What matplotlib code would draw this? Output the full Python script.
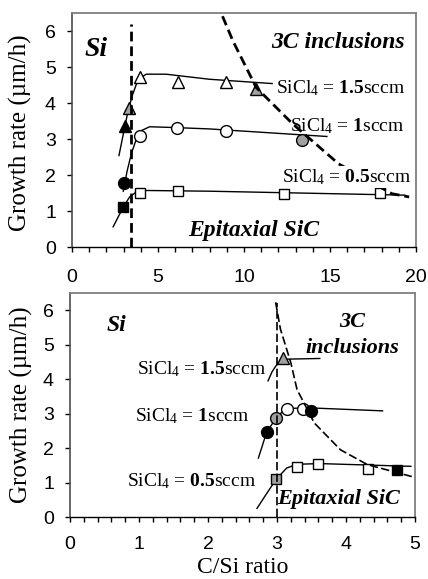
import matplotlib
matplotlib.use("Agg")
import matplotlib.pyplot as plt
from matplotlib.ticker import MultipleLocator

plt.rcParams['font.family'] = ['Liberation Serif', 'DejaVu Serif']
plt.rcParams['mathtext.fontset'] = 'custom'
plt.rcParams['mathtext.rm'] = 'Liberation Serif'
plt.rcParams['mathtext.bf'] = 'Liberation Serif:bold'
plt.rcParams['mathtext.it'] = 'Liberation Serif:italic'
plt.rcParams['lines.scale_dashes'] = False

# ---- upper panel: growth rate vs C/Si ratio, three SiCl4 flows ----
tri_open_x = [3.97, 6.17, 8.94]
tri_open_y = [4.72, 4.57, 4.57]
tri_gray_x = [3.33, 10.67]
tri_gray_y = [3.86, 4.38]
tri_black_x = [3.08]
tri_black_y = [3.35]

cir_open_x = [3.97, 6.10, 8.94]
cir_open_y = [3.09, 3.30, 3.23]
cir_gray_x = [13.37]
cir_gray_y = [2.96]
cir_black_x = [3.02]
cir_black_y = [1.79]

sq_open_x = [3.93, 6.15, 12.31, 17.9]
sq_open_y = [1.50, 1.55, 1.48, 1.50]
sq_black_x = [2.97]
sq_black_y = [1.10]

# fitted curves
fit15_x = [2.73, 3.06, 3.26, 3.50, 3.74, 4.00, 4.31, 5.47, 7.98, 11.64]
fit15_y = [2.54, 3.32, 3.78, 4.20, 4.52, 4.70, 4.80, 4.80, 4.66, 4.54]
fit10_x = [2.98, 3.20, 3.45, 3.74, 4.02, 4.51, 5.86, 7.98, 14.82]
fit10_y = [1.55, 2.10, 2.59, 3.00, 3.23, 3.34, 3.32, 3.28, 3.07]
fit05_x = [2.39, 2.97, 3.35, 3.74, 4.31, 7.98, 19.34]
fit05_y = [0.56, 1.10, 1.39, 1.53, 1.57, 1.55, 1.44]

vline_top = 3.45
bnd_top_x = [8.75, 9.36, 10.71, 12.83, 15.5, 18.6, 19.6]
bnd_top_y = [6.41, 5.72, 4.43, 3.42, 2.31, 1.48, 1.39]

# ---- lower panel ----
b_tri_gray_x = [3.09]
b_tri_gray_y = [4.60]

b_cir_open_x = [3.14, 3.38]
b_cir_open_y = [3.12, 3.12]
b_cir_gray_x = [2.99]
b_cir_gray_y = [2.88]
b_cir_black_x = [2.85, 3.49]
b_cir_black_y = [2.46, 3.07]

b_sq_open_x = [3.29, 3.60, 4.32]
b_sq_open_y = [1.45, 1.55, 1.39]
b_sq_gray_x = [2.99]
b_sq_gray_y = [1.10]
b_sq_black_x = [4.74]
b_sq_black_y = [1.37]

b_fit15_x = [2.87, 2.93, 3.00, 3.06, 3.12, 3.62]
b_fit15_y = [3.95, 4.22, 4.43, 4.54, 4.58, 4.60]
b_fit10_x = [2.73, 2.85, 2.99, 3.09, 3.20, 3.43, 4.53]
b_fit10_y = [1.71, 2.46, 2.88, 3.08, 3.15, 3.17, 3.08]
b_fit05_x = [2.71, 2.85, 2.99, 3.14, 3.29, 3.62, 4.94]
b_fit05_y = [0.25, 0.68, 1.10, 1.42, 1.53, 1.55, 1.47]

vline_bot = 3.0
bnd_bot_x = [2.98, 3.05, 3.20, 3.29, 3.54, 3.92, 4.31, 4.96]
bnd_bot_y = [6.23, 5.45, 4.48, 3.70, 2.73, 1.95, 1.52, 1.17]

GRAY = '#a0a0a0'
mk = dict(linestyle='none', markeredgecolor='black', markeredgewidth=1.0, zorder=3)

fig = plt.figure(figsize=(4.28, 5.79), dpi=100)
ax1 = fig.add_axes([72/428, 1-247/579, 344/428, 234/579])
ax2 = fig.add_axes([70/428, 1-517/579, 345/428, 224/579])


def style_axes(ax, xmax, major, minor, xpad):
    ax.set_xlim(0, xmax)
    ax.set_ylim(0, 6.5)
    ax.xaxis.set_major_locator(MultipleLocator(major))
    ax.xaxis.set_minor_locator(MultipleLocator(minor))
    ax.yaxis.set_major_locator(MultipleLocator(1))
    for s in ['top', 'right']:
        ax.spines[s].set_color('#7f7f7f')
        ax.spines[s].set_linewidth(1.3)
    ax.spines['left'].set_color('#4d4d4d')
    ax.spines['left'].set_linewidth(1.2)
    ax.spines['bottom'].set_color('black')
    ax.spines['bottom'].set_linewidth(1.0)
    ax.tick_params(axis='x', which='both', direction='out', length=3.6, width=1.0, pad=xpad)
    ax.tick_params(axis='y', which='major', direction='out', length=3.6, width=1.0, pad=8)
    for lab in ax.get_xticklabels() + ax.get_yticklabels():
        lab.set_fontfamily('Liberation Sans')
        lab.set_fontsize(14)
    ax.set_ylabel('Growth rate (µm/h)', fontsize=18)


style_axes(ax1, 20, 5, 1, 12)
style_axes(ax2, 5, 1, 0.2, 10)
ax1.yaxis.set_label_coords(-0.116, 0.49)
ax2.yaxis.set_label_coords(-0.108, 0.5)
ax2.set_xlabel('C/Si ratio', fontsize=17)
ax2.xaxis.set_label_coords(0.5, -0.18)

# upper panel
ax1.plot(fit15_x, fit15_y, color='black', lw=1.0, zorder=2)
ax1.plot(fit10_x, fit10_y, color='black', lw=1.0, zorder=2)
ax1.plot(fit05_x, fit05_y, color='black', lw=1.0, zorder=2)
ax1.plot(tri_open_x, tri_open_y, marker='^', ms=8.5, markerfacecolor='white', **mk)
ax1.plot(tri_gray_x, tri_gray_y, marker='^', ms=8.5, markerfacecolor=GRAY, **mk)
ax1.plot(tri_black_x, tri_black_y, marker='^', ms=8.5, markerfacecolor='black', **mk)
ax1.plot(cir_open_x, cir_open_y, marker='o', ms=8.5, markerfacecolor='white', **mk)
ax1.plot(cir_gray_x, cir_gray_y, marker='o', ms=8.5, markerfacecolor=GRAY, **mk)
ax1.plot(cir_black_x, cir_black_y, marker='o', ms=8.5, markerfacecolor='black', **mk)
ax1.plot(sq_open_x, sq_open_y, marker='s', ms=6.5, markerfacecolor='white', **mk)
ax1.plot(sq_black_x, sq_black_y, marker='s', ms=6.5, markerfacecolor='black', **mk)
ax1.plot([vline_top, vline_top], [0, 6.19], color='black', lw=2.0, dashes=(7, 3.6), zorder=4)
ax1.plot(bnd_top_x, bnd_top_y, color='black', lw=2.0, dashes=(7, 3.6), zorder=4)

ax1.text(0.75, 5.5, 'Si', fontsize=20, fontweight='bold', fontstyle='italic', va='center')
ax1.text(19.35, 5.67, '3C inclusions', fontsize=17, fontweight='bold', fontstyle='italic',
         ha='right', va='center')
ax1.text(6.76, 0.47, 'Epitaxial SiC', fontsize=17, fontweight='bold', fontstyle='italic', va='center')
ax1.text(11.85, 4.42, r'SiCl$_4$ = $\mathbf{1.5}$sccm', fontsize=14, va='center', zorder=5)
ax1.text(12.7, 3.37, r'SiCl$_4$ = $\mathbf{1}$sccm', fontsize=14, va='center', zorder=5)
ax1.text(12.21, 1.94, r'SiCl$_4$ = $\mathbf{0.5}$sccm', fontsize=14, va='center', zorder=5,
         bbox=dict(facecolor='white', edgecolor='none', pad=1))

# lower panel
ax2.plot(b_fit15_x, b_fit15_y, color='black', lw=1.0, zorder=2)
ax2.plot(b_fit10_x, b_fit10_y, color='black', lw=1.0, zorder=2)
ax2.plot(b_fit05_x, b_fit05_y, color='black', lw=1.0, zorder=2)
ax2.plot(b_tri_gray_x, b_tri_gray_y, marker='^', ms=8.5, markerfacecolor=GRAY, **mk)
ax2.plot(b_cir_open_x, b_cir_open_y, marker='o', ms=8.5, markerfacecolor='white', **mk)
ax2.plot(b_cir_gray_x, b_cir_gray_y, marker='o', ms=8.5, markerfacecolor=GRAY, **mk)
ax2.plot(b_cir_black_x, b_cir_black_y, marker='o', ms=8.5, markerfacecolor='black', **mk)
ax2.plot(b_sq_open_x, b_sq_open_y, marker='s', ms=6.5, markerfacecolor='white', **mk)
ax2.plot(b_sq_gray_x, b_sq_gray_y, marker='s', ms=6.5, markerfacecolor=GRAY, **mk)
ax2.plot(b_sq_black_x, b_sq_black_y, marker='s', ms=6.5, markerfacecolor='black', **mk)
ax2.plot([vline_bot, vline_bot], [0, 6.2], color='black', lw=1.2, dashes=(6, 2.4), zorder=4)
ax2.plot(bnd_bot_x, bnd_bot_y, color='black', lw=1.2, dashes=(6, 2.4), zorder=4)

ax2.text(0.53, 5.55, 'Si', fontsize=17, fontweight='bold', fontstyle='italic', va='center')
ax2.text(4.09, 5.28, '3C\ninclusions', fontsize=16, fontweight='bold', fontstyle='italic',
         ha='center', va='center', linespacing=1.35)
ax2.text(3.0, 0.52, 'Epitaxial SiC', fontsize=16, fontweight='bold', fontstyle='italic', va='center')
ax2.text(0.97, 4.29, r'SiCl$_4$ = $\mathbf{1.5}$sccm', fontsize=14, va='center')
ax2.text(0.94, 2.92, r'SiCl$_4$ = $\mathbf{1}$sccm', fontsize=14, va='center')
ax2.text(0.83, 1.03, r'SiCl$_4$ = $\mathbf{0.5}$sccm', fontsize=14, va='center')

fig.savefig('out.png', dpi=100)
